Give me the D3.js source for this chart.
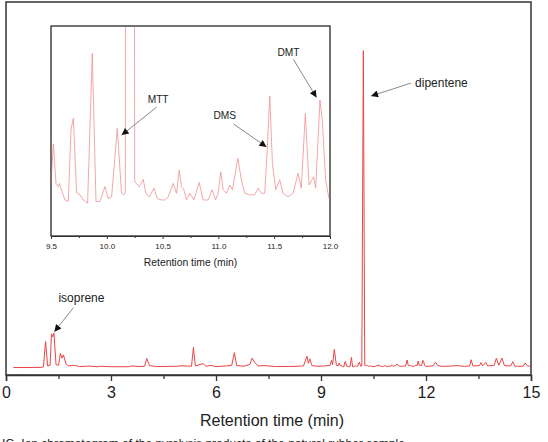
<!DOCTYPE html>
<meta charset="utf-8">
<style>
body { margin: 0; background: #fff; }
text { font-family: "Liberation Sans", Arial, sans-serif; fill: #222; }
.trace { fill: none; stroke: #ec4444; stroke-width: 1px; }
.trace-inset { fill: none; stroke: #f28a8a; stroke-width: 0.75px; }
.frame { fill: none; stroke: #333; stroke-width: 1.5px; }
.frame-inset { fill: #fff; stroke: #444; stroke-width: 1px; }
.axis path, .axis line { stroke: #333; }
.lead { stroke: #555; stroke-width: 0.7px; }
</style>
<body>
<script src="https://d3js.org/d3.v7.min.js"></script>
<script>

// chromatogram: [retention time (min), signal (a.u.)]
var trace = [
  [0.21, 2.3], [0.6, 2.3], [1.0, 2.35], [1.07, 2.5], [1.13, 10.3], [1.19, 2.8],
  [1.26, 3.0], [1.3, 12.7], [1.335, 11.8], [1.37, 12.9], [1.43, 3.2], [1.5, 3.0],
  [1.555, 6.7], [1.6, 5.2], [1.64, 6.2], [1.72, 3.3], [1.8, 2.8], [1.95, 3.0],
  [2.1, 2.6], [2.4, 2.75], [2.6, 2.55], [2.7, 2.7], [3.0, 2.55], [3.5, 2.55],
  [3.6, 2.8], [3.8, 2.6], [3.96, 2.7], [4.02, 5.1], [4.1, 2.9], [4.3, 2.6],
  [4.9, 2.7], [5.0, 2.85], [5.3, 2.7], [5.355, 8.5], [5.41, 2.8], [5.63, 3.5],
  [5.72, 2.7], [5.85, 3.0], [6.0, 2.6], [6.3, 2.8], [6.45, 3.0], [6.526, 6.9],
  [6.59, 2.9], [6.8, 2.7], [6.97, 3.3], [7.03, 5.2], [7.1, 4.0], [7.2, 2.8],
  [7.4, 2.9], [7.7, 2.6], [8.2, 2.65], [8.5, 2.8], [8.6, 5.8], [8.64, 3.6],
  [8.68, 5.0], [8.74, 2.9], [8.9, 2.7], [9.1, 2.8], [9.26, 3.0], [9.3, 4.5],
  [9.33, 3.2], [9.38, 7.9], [9.44, 3.0],
  [9.50, 2.92], [9.521, 3.69], [9.545, 2.92], [9.566, 2.86], [9.575, 2.92],
  [9.625, 2.60], [9.655, 2.57], [9.679, 3.96], [9.700, 4.19], [9.730, 2.73],
  [9.760, 2.70], [9.789, 2.60], [9.828, 2.54], [9.870, 5.45], [9.903, 2.57],
  [9.939, 2.57], [9.983, 2.86], [10.013, 2.63], [10.043, 2.66], [10.094, 3.99],
  [10.132, 2.73], [10.153, 2.70], [10.166, 2.75], [10.21, 100], [10.25, 2.95],
  [10.267, 2.92], [10.291, 2.86], [10.326, 3.00], [10.350, 2.73], [10.380, 2.66],
  [10.422, 2.83], [10.452, 2.63], [10.490, 2.60], [10.520, 2.60], [10.550, 2.66],
  [10.595, 2.92], [10.625, 2.73], [10.649, 3.18], [10.669, 2.86], [10.690, 2.80],
  [10.714, 2.60], [10.744, 2.73], [10.780, 2.60], [10.828, 2.94], [10.863, 2.60],
  [10.908, 2.60], [10.944, 2.80], [10.974, 2.60], [10.998, 2.73], [11.021, 3.15],
  [11.042, 2.80], [11.072, 2.73], [11.102, 2.89], [11.126, 2.80], [11.174, 3.41],
  [11.206, 2.99], [11.236, 2.73], [11.281, 2.70], [11.326, 2.70], [11.356, 2.83],
  [11.385, 2.73], [11.415, 2.73], [11.439, 3.64], [11.460, 4.62], [11.484, 3.31],
  [11.514, 2.80], [11.550, 2.99], [11.579, 2.73], [11.624, 2.66], [11.669, 2.73],
  [11.714, 3.12], [11.743, 2.83], [11.779, 4.28], [11.812, 2.89], [11.854, 3.05],
  [11.872, 2.83], [11.910, 4.54], [11.931, 4.15], [11.961, 2.99], [11.991, 2.63],
  [12.05, 2.7], [12.2, 2.8], [12.27, 3.9], [12.33, 3.0], [12.45, 2.65], [12.7, 2.75],
  [12.9, 2.9], [13.1, 2.65], [13.25, 2.8], [13.29, 4.7], [13.34, 2.8], [13.53, 2.9],
  [13.57, 3.8], [13.62, 2.8], [13.71, 3.9], [13.76, 2.8], [13.95, 3.0], [14.01, 5.2],
  [14.08, 3.0], [14.17, 5.2], [14.24, 2.9], [14.42, 2.8], [14.48, 4.1], [14.54, 2.7],
  [14.78, 2.7], [14.83, 3.7], [14.9, 2.8], [14.97, 2.7]
];

var mainTicks = [0, 3, 6, 9, 12, 15];
var mainMinor = [1.5, 4.5, 7.5, 10.5, 13.5];
var insetTicks = [9.5, 10.0, 10.5, 11.0, 11.5, 12.0];
var insetMinor = [9.75, 10.25, 10.75, 11.25, 11.75];
var xTitle = "Retention time (min)";

// labelled peaks: name and the point the arrow points at (time, signal)
var mainNames = ["isoprene", "dipentene"];
var mainTips = [[1.383, 13.35], [10.43, 86]];
var insetNames = ["MTT", "DMS", "DMT"];
var insetTips = [[10.133, 3.86], [11.431, 3.63], [11.879, 4.59]];

var caption = "IG. Ion chromatogram of the pyrolysis products of the natural rubber sample";

var W = 548, H = 442;
var svg = d3.select("body").append("svg")
  .attr("width", W).attr("height", H);

var defs = svg.append("defs");
defs.append("marker")
  .attr("id", "head")
  .attr("viewBox", "0 0 10 10")
  .attr("refX", 10).attr("refY", 5)
  .attr("markerWidth", 9).attr("markerHeight", 7)
  .attr("markerUnits", "userSpaceOnUse")
  .attr("orient", "auto")
  .append("path").attr("d", "M0,0L10,5L0,10z").attr("fill", "#111");

// ---- main chart
var x = d3.scaleLinear().domain([0, 15]).range([6, 531]);
var y = d3.scaleLinear().domain([0, 115]).range([375, 2]);

defs.append("clipPath").attr("id", "clipMain")
  .append("rect").attr("x", 6).attr("y", 2).attr("width", 525).attr("height", 373);

var line = d3.line()
  .x(function(d) { return x(d[0]); })
  .y(function(d) { return y(d[1]); });

svg.append("path")
  .datum(trace)
  .attr("class", "trace")
  .attr("clip-path", "url(#clipMain)")
  .attr("d", line);

svg.append("rect").attr("class", "frame")
  .attr("x", 6).attr("y", 2).attr("width", 525).attr("height", 373);

var xAxis = svg.append("g").attr("class", "axis")
  .attr("transform", "translate(0,375)")
  .call(d3.axisBottom(x).tickValues(mainTicks).tickSize(6).tickPadding(6).tickFormat(d3.format("d")));
xAxis.select(".domain").attr("stroke-width", 1.5);
xAxis.selectAll("line").attr("stroke-width", 1.3);
xAxis.selectAll("text").style("font-size", "16px").attr("fill", "#222");

var xMinor = svg.append("g").attr("class", "axis")
  .attr("transform", "translate(0,375)")
  .call(d3.axisBottom(x).tickValues(mainMinor).tickSize(4).tickFormat(""));
xMinor.select(".domain").remove();
xMinor.selectAll("line").attr("stroke-width", 1.3);

svg.append("text")
  .attr("x", 272).attr("y", 426)
  .attr("text-anchor", "middle")
  .style("font-size", "16px")
  .text(xTitle);

// main annotations (offsets in px from the arrow tip)
var mainLayout = [
  { tail: [19, -24], text: [4, -30], anchor: "start" },
  { tail: [40, -13], text: [44, -9], anchor: "start" }
];
mainNames.forEach(function(name, i) {
  var tx = x(mainTips[i][0]), ty = y(mainTips[i][1]), L = mainLayout[i];
  svg.append("line").attr("class", "lead")
    .attr("x1", tx + L.tail[0]).attr("y1", ty + L.tail[1])
    .attr("x2", tx).attr("y2", ty)
    .attr("marker-end", "url(#head)");
  svg.append("text")
    .attr("x", tx + L.text[0]).attr("y", ty + L.text[1])
    .attr("text-anchor", L.anchor)
    .style("font-size", "12px")
    .text(name);
});

// ---- inset
var xi = d3.scaleLinear().domain([9.5, 12]).range([51, 330]);
var yi = d3.scaleLinear().domain([1.9, 5.98]).range([236, 26]);

svg.append("rect").attr("class", "frame-inset")
  .attr("x", 51).attr("y", 26).attr("width", 279).attr("height", 210);

defs.append("clipPath").attr("id", "clipInset")
  .append("rect").attr("x", 51).attr("y", 26).attr("width", 279).attr("height", 210);

var lineInset = d3.line()
  .x(function(d) { return xi(d[0]); })
  .y(function(d) { return yi(d[1]); });

svg.append("path")
  .datum(trace.filter(function(d) { return d[0] >= 9.44 && d[0] <= 12.05; }))
  .attr("class", "trace-inset")
  .attr("clip-path", "url(#clipInset)")
  .attr("d", lineInset);

svg.append("rect").attr("fill", "none").attr("stroke", "#444")
  .attr("x", 51).attr("y", 26).attr("width", 279).attr("height", 210);

var xiAxis = svg.append("g").attr("class", "axis")
  .attr("transform", "translate(0,236)")
  .call(d3.axisBottom(xi).tickValues(insetTicks).tickSize(3).tickPadding(4).tickFormat(d3.format(".1f")));
xiAxis.selectAll("text").style("font-size", "8px").attr("fill", "#333");
xiAxis.select(".domain").attr("stroke", "#444");

var xiMinor = svg.append("g").attr("class", "axis")
  .attr("transform", "translate(0,236)")
  .call(d3.axisBottom(xi).tickValues(insetMinor).tickSize(2).tickFormat(""));
xiMinor.select(".domain").remove();

svg.append("text")
  .attr("x", 190.5).attr("y", 265.5)
  .attr("text-anchor", "middle")
  .style("font-size", "10.4px")
  .text(xTitle);

var insetLayout = [
  { tail: [35, -28], text: [26, -32] },
  { tail: [-33, -23], text: [-53, -28] },
  { tail: [-23, -38], text: [-39, -42] }
];
insetNames.forEach(function(name, i) {
  var tx = xi(insetTips[i][0]), ty = yi(insetTips[i][1]), L = insetLayout[i];
  svg.append("line").attr("class", "lead")
    .attr("x1", tx + L.tail[0]).attr("y1", ty + L.tail[1])
    .attr("x2", tx).attr("y2", ty)
    .attr("marker-end", "url(#head)");
  svg.append("text")
    .attr("x", tx + L.text[0]).attr("y", ty + L.text[1])
    .style("font-size", "10.2px")
    .text(name);
});

// figure caption, cut off by the bottom edge as in the source image
svg.append("text")
  .attr("x", 2).attr("y", 448)
  .style("font-size", "12px")
  .text(caption);

</script>
</body>
